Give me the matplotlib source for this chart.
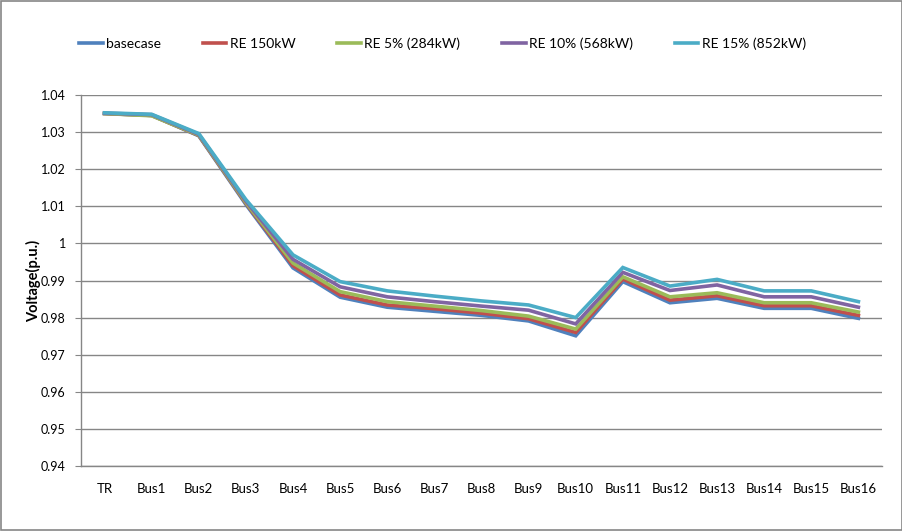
import matplotlib
matplotlib.use("Agg")
import matplotlib.pyplot as plt
from matplotlib.patches import Rectangle

categories = ["TR", "Bus1", "Bus2", "Bus3", "Bus4", "Bus5", "Bus6", "Bus7", "Bus8",
              "Bus9", "Bus10", "Bus11", "Bus12", "Bus13", "Bus14", "Bus15", "Bus16"]

basecase = [1.0350, 1.0345, 1.0290, 1.0105, 0.9934, 0.9855, 0.9828, 0.9817, 0.9806,
            0.9791, 0.9751, 0.9897, 0.9840, 0.9852, 0.9825, 0.9825, 0.9798]
re_150 = [1.0350, 1.0345, 1.0291, 1.0108, 0.9940, 0.9861, 0.9834, 0.9824, 0.9812,
          0.9797, 0.9760, 0.9904, 0.9847, 0.9859, 0.9832, 0.9832, 0.9806]
re_5 = [1.0350, 1.0344, 1.0292, 1.0110, 0.9947, 0.9870, 0.9843, 0.9831, 0.9819,
        0.9804, 0.9769, 0.9910, 0.9856, 0.9867, 0.9840, 0.9840, 0.9815]
re_10 = [1.0351, 1.0347, 1.0294, 1.0114, 0.9957, 0.9883, 0.9856, 0.9843, 0.9831,
         0.9820, 0.9783, 0.9922, 0.9873, 0.9888, 0.9856, 0.9856, 0.9828]
re_15 = [1.0352, 1.0348, 1.0296, 1.0118, 0.9969, 0.9897, 0.9872, 0.9858, 0.9845,
         0.9834, 0.9800, 0.9935, 0.9885, 0.9903, 0.9872, 0.9872, 0.9843]

series = [
    ("basecase", basecase, "#4F81BD"),
    ("RE 150kW", re_150, "#C0504D"),
    ("RE 5% (284kW)", re_5, "#9BBB59"),
    ("RE 10% (568kW)", re_10, "#8064A2"),
    ("RE 15% (852kW)", re_15, "#4BACC6"),
]

plt.rcParams['font.family'] = ['Lato', 'DejaVu Sans']

fig = plt.figure(figsize=(9.03, 5.31), dpi=100)
ax = fig.add_axes([0.0897, 0.1224, 0.887, 0.6987])

x = list(range(len(categories)))
for name, vals, col in series:
    ax.plot(x, vals, color=col, lw=2.6, label=name, solid_joinstyle='miter')

ax.set_xlim(-0.5, len(categories) - 0.5)
ax.set_ylim(0.94, 1.04)
yt = [0.94, 0.95, 0.96, 0.97, 0.98, 0.99, 1.00, 1.01, 1.02, 1.03, 1.04]
ax.set_yticks(yt)
ax.set_yticklabels(["0.94", "0.95", "0.96", "0.97", "0.98", "0.99", "1",
                    "1.01", "1.02", "1.03", "1.04"])
ax.set_xticks(x)
ax.set_xticklabels(categories)
ax.tick_params(axis='x', length=0, pad=12, labelsize=9.5)
ax.tick_params(axis='y', length=4, color='#868686', pad=7, labelsize=9)
ax.yaxis.grid(True, color='#868686', lw=1)
ax.set_axisbelow(True)
for s in ['top', 'right']:
    ax.spines[s].set_visible(False)
for s in ['left', 'bottom']:
    ax.spines[s].set_color('#868686')
    ax.spines[s].set_linewidth(1)

ax.set_ylabel("Voltage(p.u.)", fontweight='bold', fontsize=10.5)
ax.yaxis.set_label_coords(-0.05, 0.5)

fig.legend(loc='center', bbox_to_anchor=(0.49, 0.917), ncol=5, frameon=False,
           fontsize=10, handlelength=1.7, handletextpad=0.25, columnspacing=3.0)

fig.patches.append(Rectangle((0.001, 0.001), 0.998, 0.997, transform=fig.transFigure,
                             fill=False, edgecolor='#868686', lw=1.2))

fig.savefig("out.png", dpi=100)
